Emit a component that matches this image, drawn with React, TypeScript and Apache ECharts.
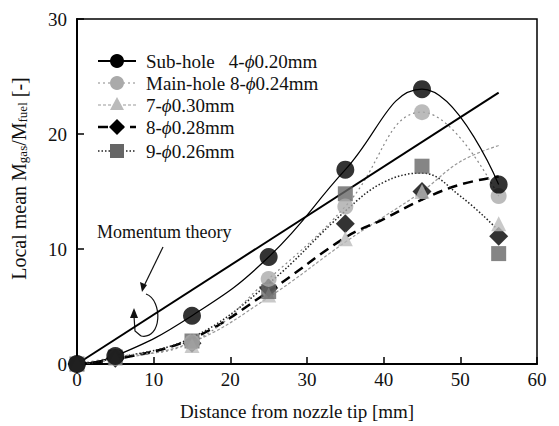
import React, { useEffect, useRef } from "react";
import * as echarts from "echarts";

// ---- data ----
const xs = [0, 5, 15, 25, 35, 45, 55];
const subHole = [0, 0.7, 4.2, 9.3, 16.9, 23.9, 15.6];
const mainHole = [0, 0.6, 1.9, 7.4, 13.7, 21.9, 14.6];
const phi030 = [0, 0.5, 1.6, 6.0, 10.9, 15.0, 12.2];
const phi028 = [0, 0.5, 1.8, 6.6, 12.2, 15.0, 11.1];
const phi026 = [0, 0.6, 2.0, 6.3, 14.8, 17.2, 9.6];

// fitted curves (drawn without markers)
const curveX = [0, 5, 15, 25, 35, 40, 45, 50, 55];
const curve030 = [0, 0.4, 1.9, 5.8, 10.6, 12.8, 15.0, 17.6, 19.0];
const curve028 = [0, 0.4, 2.2, 6.3, 11.0, 12.6, 14.3, 15.6, 16.3];
const curve026 = [0, 0.5, 2.3, 7.0, 13.3, 15.8, 16.6, 14.6, 11.6];

const momentumX = [0, 55];
const momentumY = [0, 23.6];

const xTicks = [0, 10, 20, 30, 40, 50, 60];
const yTicks = [0, 10, 20, 30];

const legendLabels = [
  ["Sub-hole   4-", "0.20mm"],
  ["Main-hole 8-", "0.24mm"],
  ["7-", "0.30mm"],
  ["8-", "0.28mm"],
  ["9-", "0.26mm"],
];

const FONT = "'Liberation Serif', 'DejaVu Serif', serif";
const pairs = (x: number[], y: number[]) => x.map((v, i) => [v, y[i]]);

export default function App() {
  const ref = useRef<HTMLDivElement>(null);
  useEffect(() => {
    if (!ref.current) return;
    const chart = echarts.init(ref.current, null, { renderer: "svg" });

    const legendGraphics: any[] = [];
    const rowY = [61, 83, 105, 127, 151];
    const lx0 = 98, lx1 = 136, mx = 117, tx = 146;
    const lineStyles = [
      { stroke: "#000", lineWidth: 2 },
      { stroke: "#888", lineWidth: 1.2, lineDash: [2, 3] },
      { stroke: "#999", lineWidth: 1.2, lineDash: [3, 2] },
      { stroke: "#000", lineWidth: 2.5, lineDash: [10, 6] },
      { stroke: "#222", lineWidth: 1.5, lineDash: [1.5, 2] },
    ];
    rowY.forEach((y, i) => {
      legendGraphics.push({
        type: "line",
        shape: { x1: lx0, y1: y, x2: lx1, y2: y },
        style: lineStyles[i],
      });
      if (i === 0) legendGraphics.push({ type: "circle", shape: { cx: mx, cy: y, r: 7 }, style: { fill: "#000" } });
      if (i === 1) legendGraphics.push({ type: "circle", shape: { cx: mx, cy: y, r: 7 }, style: { fill: "#aaa" } });
      if (i === 2) legendGraphics.push({ type: "polygon", shape: { points: [[mx, y - 8], [mx - 7, y + 5], [mx + 7, y + 5]] }, style: { fill: "#bbb" } });
      if (i === 3) legendGraphics.push({ type: "polygon", shape: { points: [[mx, y - 8], [mx + 8, y], [mx, y + 8], [mx - 8, y]] }, style: { fill: "#000" } });
      if (i === 4) legendGraphics.push({ type: "rect", shape: { x: mx - 7, y: y - 7, width: 14, height: 14 }, style: { fill: "#666" } });
      legendGraphics.push({
        type: "text",
        x: tx,
        y: y,
        style: {
          text: `{n|${legendLabels[i][0]}}{p|ϕ}{n|${legendLabels[i][1]}}`,
          verticalAlign: "middle",
          rich: {
            n: { fontFamily: FONT, fontSize: 19, fill: "#111" },
            p: { fontFamily: FONT, fontSize: 19, fontStyle: "italic", fill: "#111" },
          },
        },
      });
    });

    const annotation = [
      {
        type: "text",
        x: 97,
        y: 232,
        style: { text: "Momentum theory", fontFamily: FONT, fontSize: 18, fill: "#111", verticalAlign: "middle" },
      },
      { type: "line", shape: { x1: 163, y1: 247, x2: 144, y2: 286 }, style: { stroke: "#111", lineWidth: 1.2 } },
      { type: "polygon", shape: { points: [[142, 292], [140, 282], [147, 285]] }, style: { fill: "#111" } },
      {
        type: "bezierCurve",
        shape: { x1: 146, y1: 294, cpx1: 163, cpy1: 300, cpx2: 162, cpy2: 340, x2: 141, y2: 336 },
        style: { stroke: "#111", lineWidth: 1.2, fill: "none" },
      },
      {
        type: "polyline",
        shape: { points: [[141, 336], [135, 331], [134, 316]] },
        style: { stroke: "#111", lineWidth: 1.2, fill: "none" },
      },
      { type: "polygon", shape: { points: [[134, 308], [130, 318], [138, 318]] }, style: { fill: "#111" } },
    ];

    const option: any = {
      animation: false,
      backgroundColor: "#fff",
      grid: { left: 73, right: 22, top: 19, bottom: 62, show: true, borderColor: "#000", borderWidth: 1.5, backgroundColor: "transparent" },
      xAxis: {
        type: "value",
        min: xTicks[0],
        max: xTicks[xTicks.length - 1],
        interval: 10,
        name: "Distance from nozzle tip [mm]",
        nameLocation: "middle",
        nameGap: 38,
        nameTextStyle: { fontFamily: FONT, fontSize: 19, color: "#111", padding: [0, 20, 0, 0] },
        axisLine: { lineStyle: { color: "#000", width: 2 } },
        axisTick: { inside: true, length: 7, lineStyle: { color: "#000", width: 1.5 } },
        axisLabel: { fontFamily: FONT, fontSize: 19, color: "#111", margin: 6 },
        splitLine: { show: false },
      },
      yAxis: {
        type: "value",
        min: yTicks[0],
        max: yTicks[yTicks.length - 1],
        interval: 10,
        name: "{n|Local mean M}{s|gas}{n|/M}{s|fuel}{n| [-]}",
        nameLocation: "middle",
        nameGap: 48,
        nameRotate: 90,
        nameTextStyle: {
          padding: [0, 0, 0, 26],
          rich: {
            n: { fontFamily: FONT, fontSize: 20, color: "#111", lineHeight: 24, verticalAlign: "bottom" },
            s: { fontFamily: FONT, fontSize: 13, color: "#111", lineHeight: 24, verticalAlign: "bottom", padding: [8, 0, 0, 0] },
          },
        },
        axisLine: { lineStyle: { color: "#000", width: 2 } },
        axisTick: { inside: true, length: 7, lineStyle: { color: "#000", width: 1.5 } },
        axisLabel: { fontFamily: FONT, fontSize: 19, color: "#111", margin: 10 },
        splitLine: { show: false },
      },
      series: [
        {
          type: "line",
          data: pairs(momentumX, momentumY),
          symbol: "none",
          lineStyle: { color: "#000", width: 2 },
          z: 3,
        },
        {
          type: "line",
          data: pairs(curveX, curve030),
          symbol: "none",
          smooth: 0.4,
          lineStyle: { color: "#999", width: 1.2, type: [3, 2] },
          z: 2,
        },
        {
          type: "line",
          data: pairs(curveX, curve028),
          symbol: "none",
          smooth: 0.4,
          lineStyle: { color: "#000", width: 2.5, type: [10, 6] },
          z: 2,
        },
        {
          type: "line",
          data: pairs(curveX, curve026),
          symbol: "none",
          smooth: 0.4,
          lineStyle: { color: "#222", width: 1.5, type: [1.5, 2] },
          z: 2,
        },
        {
          type: "line",
          data: pairs(xs, mainHole),
          symbol: "none",
          smooth: 0.45,
          lineStyle: { color: "#888", width: 1.2, type: [2, 3] },
          z: 2,
        },
        {
          type: "line",
          data: pairs(xs, subHole),
          symbol: "none",
          smooth: 0.45,
          lineStyle: { color: "#000", width: 1.2 },
          z: 3,
        },
        {
          type: "scatter",
          data: pairs(xs, phi028),
          symbol: "diamond",
          symbolSize: 19,
          itemStyle: { color: "#000" },
          z: 4,
        },
        {
          type: "scatter",
          data: pairs(xs, phi030),
          symbol: "triangle",
          symbolSize: 15,
          itemStyle: { color: "#bbb" },
          z: 4,
        },
        {
          type: "scatter",
          data: pairs(xs, phi026),
          symbol: "rect",
          symbolSize: 15,
          itemStyle: { color: "#666" },
          z: 5,
        },
        {
          type: "scatter",
          data: pairs(xs, mainHole),
          symbol: "circle",
          symbolSize: 16,
          itemStyle: { color: "#aaa" },
          z: 5,
        },
        {
          type: "scatter",
          data: pairs(xs, subHole),
          symbol: "circle",
          symbolSize: 18,
          itemStyle: { color: "#000" },
          z: 6,
        },
      ],
      graphic: [...legendGraphics, ...annotation],
    };
    chart.setOption(option);
    return () => chart.dispose();
  }, []);
  return <div ref={ref} style={{ width: 559, height: 426, position: "absolute", left: 0, top: 0 }} />;
}
